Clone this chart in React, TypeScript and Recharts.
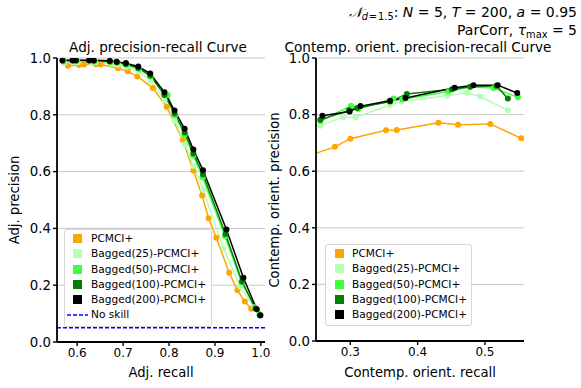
import React from 'react';
import { LineChart, Line, XAxis, YAxis, CartesianGrid, ReferenceLine } from 'recharts';

// ---------- data ----------
const SERIES_NAMES = ['PCMCI+', 'Bagged(25)-PCMCI+', 'Bagged(50)-PCMCI+', 'Bagged(100)-PCMCI+', 'Bagged(200)-PCMCI+'];
const SERIES_COLORS = ['#ffa500', '#b3ffb3', '#3dff3d', '#008000', '#000000'];

// Adjacency precision-recall: [recall, precision]
const ADJ_PCMCI: [number, number][] = [
  [0.580, 0.973], [0.604, 0.975], [0.615, 0.977], [0.641, 0.978], [0.651, 0.977], [0.689, 0.964],
  [0.710, 0.953], [0.731, 0.935], [0.765, 0.894], [0.795, 0.828], [0.830, 0.711], [0.853, 0.604],
  [0.872, 0.516], [0.886, 0.436], [0.903, 0.367], [0.931, 0.244], [0.949, 0.182], [0.965, 0.143], [0.979, 0.117],
];
const ADJ_B25: [number, number][] = [
  [0.572, 0.983], [0.594, 0.985], [0.601, 0.985], [0.630, 0.985], [0.640, 0.984], [0.674, 0.980],
  [0.689, 0.976], [0.708, 0.968], [0.735, 0.952], [0.760, 0.920], [0.790, 0.852], [0.812, 0.780],
  [0.835, 0.696], [0.853, 0.620], [0.874, 0.537], [0.919, 0.328], [0.955, 0.195], [0.985, 0.122], [0.995, 0.102],
];
const ADJ_B50: [number, number][] = [
  [0.570, 0.988], [0.592, 0.989], [0.599, 0.989], [0.628, 0.989], [0.638, 0.988], [0.672, 0.986],
  [0.687, 0.983], [0.707, 0.976], [0.734, 0.962], [0.760, 0.935], [0.797, 0.870], [0.813, 0.798],
  [0.834, 0.730], [0.853, 0.657], [0.873, 0.580], [0.922, 0.372], [0.958, 0.210], [0.988, 0.120], [0.997, 0.098],
];
const ADJ_B100: [number, number][] = [
  [0.568, 0.990], [0.590, 0.991], [0.597, 0.991], [0.626, 0.991], [0.636, 0.990], [0.671, 0.988],
  [0.686, 0.985], [0.706, 0.979], [0.733, 0.965], [0.759, 0.938], [0.790, 0.870], [0.812, 0.805],
  [0.834, 0.738], [0.853, 0.664], [0.874, 0.590], [0.923, 0.380], [0.959, 0.213], [0.988, 0.118], [0.998, 0.093],
];
const ADJ_B200: [number, number][] = [
  [0.568, 0.992], [0.590, 0.992], [0.597, 0.992], [0.626, 0.992], [0.636, 0.992], [0.671, 0.990],
  [0.686, 0.987], [0.706, 0.982], [0.733, 0.970], [0.759, 0.945], [0.790, 0.879], [0.812, 0.815],
  [0.834, 0.751], [0.853, 0.678], [0.874, 0.605], [0.925, 0.396], [0.962, 0.226], [0.991, 0.115], [0.999, 0.094],
];

// Contemporaneous orientation precision-recall: [recall, precision]
const ORI_PCMCI: [number, number][] = [
  [0.235, 0.652], [0.277, 0.686], [0.300, 0.715], [0.353, 0.745], [0.369, 0.746],
  [0.431, 0.771], [0.460, 0.764], [0.508, 0.767], [0.554, 0.716],
];
const ORI_B25: [number, number][] = [
  [0.2555, 0.761], [0.289, 0.791], [0.308, 0.791], [0.359, 0.834], [0.376, 0.846],
  [0.444, 0.867], [0.473, 0.877], [0.493, 0.864], [0.534, 0.815],
];
const ORI_B50: [number, number][] = [
  [0.2555, 0.777], [0.301, 0.831], [0.312, 0.820], [0.364, 0.857], [0.377, 0.853],
  [0.446, 0.882], [0.478, 0.898], [0.513, 0.894], [0.549, 0.861],
];
const ORI_B100: [number, number][] = [
  [0.2555, 0.782], [0.298, 0.815], [0.310, 0.823], [0.359, 0.846], [0.384, 0.873],
  [0.451, 0.890], [0.478, 0.898], [0.517, 0.902], [0.534, 0.857],
];
const ORI_B200: [number, number][] = [
  [0.2585, 0.796], [0.299, 0.811], [0.315, 0.830], [0.359, 0.849], [0.382, 0.859],
  [0.455, 0.895], [0.483, 0.904], [0.519, 0.904], [0.548, 0.876],
];

const NO_SKILL = 0.05;
const ADJ_X_TICKS = [0.6, 0.7, 0.8, 0.9, 1.0];
const ORI_X_TICKS = [0.3, 0.4, 0.5];
const Y_TICKS = [0, 0.2, 0.4, 0.6, 0.8, 1.0];

const ADJ_SETS = [ADJ_PCMCI, ADJ_B25, ADJ_B50, ADJ_B100, ADJ_B200];
const ORI_SETS = [ORI_PCMCI, ORI_B25, ORI_B50, ORI_B100, ORI_B200];

const toRows = (s: [number, number][]) => s.map(([x, y]) => ({ x, y }));

const FONT = "'DejaVu Sans', sans-serif";

const axisLine = { stroke: '#000', strokeWidth: 1.8 };
const tickLine = { stroke: '#000', strokeWidth: 1.4 };
const xTickStyle = { fill: '#000', fontSize: 12, fontFamily: FONT };
const yTickStyle = { fill: '#000', fontSize: 13.3, fontFamily: FONT };

function renderLines(sets: [number, number][][]) {
  return sets.map((s, i) => (
    <Line
      key={SERIES_NAMES[i]}
      name={SERIES_NAMES[i]}
      data={toRows(s)}
      dataKey="y"
      type="linear"
      stroke={SERIES_COLORS[i]}
      strokeWidth={1.5}
      dot={{ r: 3, fill: SERIES_COLORS[i], stroke: SERIES_COLORS[i], strokeWidth: 0 }}
      activeDot={false}
      isAnimationActive={false}
    />
  ));
}

function LegendBox({ left, top, width, padTop, padLeft, gap, showNoSkill }: any) {
  const rows = SERIES_NAMES.map((n, i) => (
    <div key={n} style={{ display: 'flex', alignItems: 'center', height: 15.3 }}>
      <div style={{ width: 9, height: 9, background: SERIES_COLORS[i], marginRight: gap }} />
      <span>{n}</span>
    </div>
  ));
  return (
    <div
      style={{
        position: 'absolute', left, top, width,
        boxSizing: 'border-box',
        border: '1px solid #d6d6d6', borderRadius: 3,
        background: 'rgba(255,255,255,0.85)',
        padding: `${padTop}px 0 3px ${padLeft}px`,
        fontFamily: FONT, fontSize: 10.6, color: '#000', lineHeight: '15.3px',
      }}
    >
      {rows}
      {showNoSkill && (
        <div style={{ display: 'flex', alignItems: 'center', height: 15.3 }}>
          <svg width={21} height={4} style={{ marginLeft: -6, marginRight: gap - 6 }}>
            <line x1={0} y1={2} x2={21} y2={2} stroke="#0000ff" strokeWidth={1.5} strokeDasharray="4 2" />
          </svg>
          <span>No skill</span>
        </div>
      )}
    </div>
  );
}

export default function App() {
  return (
    <div style={{ position: 'absolute', left: 0, top: 0, width: 581, height: 388, background: '#fff', overflow: 'hidden' }}>
      {/* Left: adjacency PR */}
      <div style={{ position: 'absolute', left: 0, top: 0 }}>
        <LineChart width={290} height={388} margin={{ top: 58, right: 25, bottom: 16, left: 12 }}>
          <CartesianGrid vertical={false} stroke="#c8c8c8" strokeWidth={1} />
          <XAxis
            type="number" dataKey="x" domain={[0.556, 1.009]} ticks={ADJ_X_TICKS} allowDataOverflow
            tickFormatter={(v: number) => v.toFixed(1)} axisLine={axisLine} tickLine={tickLine}
            tickSize={4} tick={xTickStyle} height={30} interval={0}
          />
          <YAxis
            type="number" domain={[0, 1]} ticks={Y_TICKS} allowDataOverflow
            tickFormatter={(v: number) => v.toFixed(1)} axisLine={axisLine} tickLine={tickLine}
            tickSize={4} tick={yTickStyle} width={45} interval={0}
          />
          <ReferenceLine y={NO_SKILL} stroke="#0000ff" strokeWidth={1.5} strokeDasharray="4 2" />
          {renderLines(ADJ_SETS)}
        </LineChart>
      </div>
      {/* Right: contemporaneous orientation PR */}
      <div style={{ position: 'absolute', left: 260, top: 0 }}>
        <LineChart width={321} height={388} margin={{ top: 58, right: 57, bottom: 17, left: 11 }}>
          <CartesianGrid vertical={false} stroke="#c8c8c8" strokeWidth={1} />
          <XAxis
            type="number" dataKey="x" domain={[0.249, 0.558]} ticks={ORI_X_TICKS} allowDataOverflow
            tickFormatter={(v: number) => v.toFixed(1)} axisLine={axisLine} tickLine={tickLine}
            tickSize={4} tick={xTickStyle} height={30} interval={0}
          />
          <YAxis
            type="number" domain={[0, 1]} ticks={Y_TICKS} allowDataOverflow
            tickFormatter={(v: number) => v.toFixed(1)} axisLine={axisLine} tickLine={tickLine}
            tickSize={4} tick={yTickStyle} width={45} interval={0}
          />
          {renderLines(ORI_SETS)}
        </LineChart>
      </div>

      {/* Titles and labels */}
      <svg width={581} height={388} style={{ position: 'absolute', left: 0, top: 0, pointerEvents: 'none' }}
        fontFamily={FONT} fill="#000">
        <text x={577} y={17} textAnchor="end" fontSize={14}>
          <tspan fontStyle="italic">𝒩</tspan>
          <tspan fontSize={9.8} fontStyle="italic" dy={3}>d</tspan>
          <tspan fontSize={9.8} dx={1}>=</tspan>
          <tspan fontSize={9.8} dx={1}>1.5</tspan>
          <tspan dy={-3}>: </tspan>
          <tspan fontStyle="italic">N</tspan>
          <tspan> = 5, </tspan>
          <tspan fontStyle="italic">T</tspan>
          <tspan> = 200, </tspan>
          <tspan fontStyle="italic">a</tspan>
          <tspan> = 0.95</tspan>
        </text>
        <text x={577} y={35} textAnchor="end" fontSize={14}>
          <tspan>ParCorr, </tspan>
          <tspan fontStyle="italic">τ</tspan>
          <tspan fontSize={9.8} dy={3}>max</tspan>
          <tspan dy={-3}> = 5</tspan>
        </text>
        <text x={158} y={51.5} textAnchor="middle" fontSize={13.6}>Adj. precision-recall Curve</text>
        <text x={418} y={51.5} textAnchor="middle" fontSize={13.6}>Contemp. orient. precision-recall Curve</text>
        <text x={161} y={377} textAnchor="middle" fontSize={13.2}>Adj. recall</text>
        <text x={420} y={377} textAnchor="middle" fontSize={13.2}>Contemp. orient. recall</text>
        <text x={19} y={200} textAnchor="middle" fontSize={13.2} transform="rotate(-90 19 200)">Adj. precision</text>
        <text x={279} y={200} textAnchor="middle" fontSize={13.2} transform="rotate(-90 279 200)">Contemp. orient. precision</text>
      </svg>

      <LegendBox left={64} top={229} width={148} padTop={1} padLeft={8} gap={9} showNoSkill />
      <LegendBox left={325} top={244} width={147} padTop={1} padLeft={9} gap={8} showNoSkill={false} />
    </div>
  );
}
